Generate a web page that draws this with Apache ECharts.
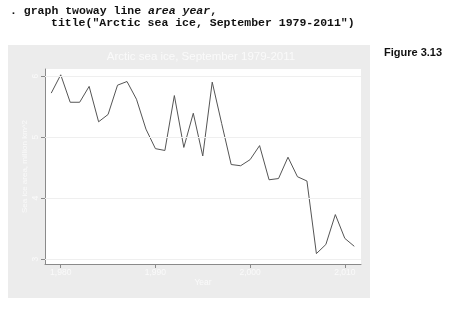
<!DOCTYPE html>
<html>
<head>
<meta charset="utf-8">
<script src="https://cdn.jsdelivr.net/npm/echarts@6/dist/echarts.min.js"></script>
<style>
html,body{margin:0;padding:0;background:#fff;}
#c{width:451px;height:309px;}
</style>
</head>
<body>
<div id="c"></div>
<script>
const years = [1979,1980,1981,1982,1983,1984,1985,1986,1987,1988,1989,1990,1991,1992,1993,1994,1995,1996,1997,1998,1999,2000,2001,2002,2003,2004,2005,2006,2007,2008,2009,2010,2011];
const area = [5.72,6.02,5.57,5.57,5.83,5.25,5.37,5.85,5.91,5.62,5.13,4.81,4.78,5.68,4.83,5.39,4.69,5.90,5.22,4.55,4.53,4.63,4.86,4.30,4.32,4.67,4.35,4.28,3.09,3.24,3.73,3.34,3.21];
const xTicks = [1980,1990,2000,2010];
const yTicks = [3,4,5,6];
const titleText = 'Arctic sea ice, September 1979-2011';

const chart = echarts.init(document.getElementById('c'), null, {renderer:'canvas'});
const white = '#fafafa';
chart.setOption({
  animation:false,
  backgroundColor:'#ffffff',
  graphic:[
    {type:'rect', z:-10, shape:{x:8,y:45,width:362,height:253}, style:{fill:'#ececec'}},
    {type:'text', left:10, top:5, style:{text:'. graph twoway line {i|area year},', font:'bold 11.5px "Liberation Mono", monospace', fill:'#111',
      rich:{i:{fontStyle:'italic', fontWeight:'bold', fontSize:11.5, fontFamily:'Liberation Mono', fill:'#111'}}}},
    {type:'text', left:51, top:17, style:{text:'title("Arctic sea ice, September 1979-2011")', font:'bold 11.5px "Liberation Mono", monospace', fill:'#111'}},
    {type:'text', left:384, top:47, style:{text:'Figure 3.13', font:'bold 11px "Liberation Sans", Arial, sans-serif', fill:'#111'}},
    {type:'text', x:201, y:57, style:{text:titleText, font:'11.5px "Liberation Sans", Arial, sans-serif', fill:white, align:'center', verticalAlign:'middle'}}
  ],
  grid:{left:45, right:90, top:69, bottom:45, show:true, backgroundColor:'#ffffff', borderWidth:0},
  xAxis:{
    type:'value', min:1978.34, max:2011.71,
    name:'Year', nameLocation:'middle', nameGap:14, nameMoveOverlap:false,
    nameTextStyle:{color:white, fontSize:8.5, fontFamily:'Liberation Sans'},
    axisLine:{show:true, lineStyle:{color:'#8a8a8a', width:1}},
    axisTick:{show:true, length:4, customValues:xTicks, lineStyle:{color:'#8a8a8a'}},
    axisLabel:{customValues:xTicks, color:white, fontSize:8.5, fontFamily:'Liberation Sans', margin:4},
    splitLine:{show:false}
  },
  yAxis:{
    type:'value', min:2.92, max:6.115,
    name:'Sea ice area, million km^2', nameLocation:'middle', nameGap:16, nameRotate:90, nameMoveOverlap:false,
    nameTextStyle:{color:white, fontSize:8, fontFamily:'Liberation Sans'},
    axisLine:{show:true, lineStyle:{color:'#8a8a8a', width:1}},
    axisTick:{show:true, length:4, customValues:yTicks, lineStyle:{color:'#8a8a8a'}},
    axisLabel:{customValues:yTicks, color:white, fontSize:8.5, fontFamily:'Liberation Sans', rotate:90, margin:5},
    splitLine:{show:false}
  },
  series:[{
    type:'line',
    data: years.map((y,i)=>[y, area[i]]),
    symbol:'none',
    lineStyle:{color:'#555555', width:1},
    markLine:{
      silent:true, symbol:'none', label:{show:false},
      lineStyle:{color:'#efefef', width:1, type:'solid'},
      data: yTicks.map(v=>({yAxis:v}))
    }
  }]
});
</script>
</body>
</html>
